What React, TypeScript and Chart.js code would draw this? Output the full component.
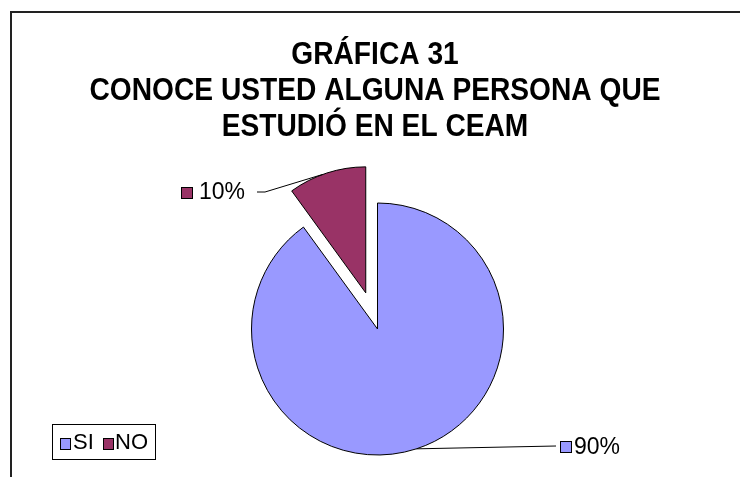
import React, { useEffect, useRef } from "react";
import { Chart, registerables } from "chart.js";

Chart.register(...registerables);

const categories = ["SI", "NO"];
const values = [90, 10];
const percentLabels = ["90%", "10%"];
const titleLines = ["GRÁFICA 31", "CONOCE USTED ALGUNA PERSONA QUE", "ESTUDIÓ EN EL CEAM"];
const colors = ["#9999FF", "#993366"];

const FONT = '"Liberation Sans", Arial, sans-serif';
const EXPLODE = [0, 38];

const decorPlugin = {
  id: "decor",
  afterDatasetsUpdate(chart: any) {
    const meta = chart.getDatasetMeta(0);
    meta.data.forEach((arc: any, i: number) => {
      const d = EXPLODE[i] || 0;
      if (!d) return;
      const mid = (arc.startAngle + arc.endAngle) / 2;
      arc.x += Math.cos(mid) * d;
      arc.y += Math.sin(mid) * d;
    });
  },
  beforeDraw(chart: any) {
    const ctx = chart.ctx;
    ctx.save();
    ctx.fillStyle = "#ffffff";
    ctx.fillRect(0, 0, chart.width, chart.height);
    // frame
    ctx.strokeStyle = "#222";
    ctx.lineWidth = 2;
    ctx.beginPath();
    ctx.moveTo(11, chart.height + 2);
    ctx.lineTo(11, 12);
    ctx.lineTo(chart.width + 2, 12);
    ctx.stroke();
    // title (slightly condensed, like the original)
    ctx.fillStyle = "#000";
    ctx.font = `bold 32px ${FONT}`;
    ctx.textAlign = "center";
    ctx.textBaseline = "alphabetic";
    const sx = 0.88;
    ctx.translate(375, 0);
    ctx.scale(sx, 1);
    titleLines.forEach((t, i) => ctx.fillText(t, 0, 64 + i * 36));
    ctx.restore();
  },
  afterDatasetsDraw(chart: any) {
    const ctx = chart.ctx;
    const meta = chart.getDatasetMeta(0);
    ctx.save();
    ctx.font = `23px ${FONT}`;
    ctx.textBaseline = "alphabetic";
    ctx.textAlign = "left";
    // leader + labels
    const specs = [
      { ang: 72, pts: [[556, 446]], box: [560, 441], text: [574, 454] },
      { ang: -110, pts: [[265, 192], [257, 192]], box: [181, 187], text: [199, 199] },
    ];
    meta.data.forEach((arc: any, i: number) => {
      const s = specs[i];
      const a = (s.ang * Math.PI) / 180;
      const r = arc.outerRadius;
      ctx.strokeStyle = "#000";
      ctx.lineWidth = 1;
      ctx.beginPath();
      ctx.moveTo(arc.x + Math.cos(a) * r, arc.y + Math.sin(a) * r);
      s.pts.forEach((p) => ctx.lineTo(p[0], p[1]));
      ctx.stroke();
      ctx.fillStyle = colors[i];
      ctx.fillRect(s.box[0] + 0.5, s.box[1] + 0.5, 11, 11);
      ctx.strokeRect(s.box[0] + 0.5, s.box[1] + 0.5, 11, 11);
      ctx.fillStyle = "#000";
      ctx.fillText(percentLabels[i], s.text[0], s.text[1]);
    });
    // legend
    ctx.strokeStyle = "#000";
    ctx.strokeRect(52.5, 424.5, 103, 35);
    ctx.font = `22px ${FONT}`;
    const items = [
      { box: [60, 438], text: [73, 449] },
      { box: [103, 438], text: [115, 449] },
    ];
    categories.forEach((c, i) => {
      const it = items[i];
      ctx.fillStyle = colors[i];
      ctx.fillRect(it.box[0] + 0.5, it.box[1] + 0.5, 10, 11);
      ctx.strokeRect(it.box[0] + 0.5, it.box[1] + 0.5, 10, 11);
      ctx.fillStyle = "#000";
      ctx.fillText(c, it.text[0], it.text[1]);
    });
    ctx.restore();
  },
};

export default function App() {
  const ref = useRef<HTMLCanvasElement>(null);
  useEffect(() => {
    if (!ref.current) return;
    const chart = new Chart(ref.current, {
      type: "pie",
      data: {
        labels: categories,
        datasets: [
          {
            data: values,
            backgroundColor: colors,
            borderColor: "#000",
            borderWidth: 1,
          },
        ],
      },
      options: {
        responsive: false,
        animation: false,
        radius: 126,
        layout: { padding: { left: 177.5, right: 162.5, top: 183.5, bottom: 2.5 } },
        plugins: {
          legend: { display: false },
          title: { display: false },
          tooltip: { enabled: false },
        },
      } as any,
      plugins: [decorPlugin],
    });
    return () => chart.destroy();
  }, []);
  return (
    <div style={{ position: "absolute", left: 0, top: 0, width: 740, height: 477, overflow: "hidden" }}>
      <canvas ref={ref} width={740} height={477} style={{ display: "block" }} />
    </div>
  );
}
